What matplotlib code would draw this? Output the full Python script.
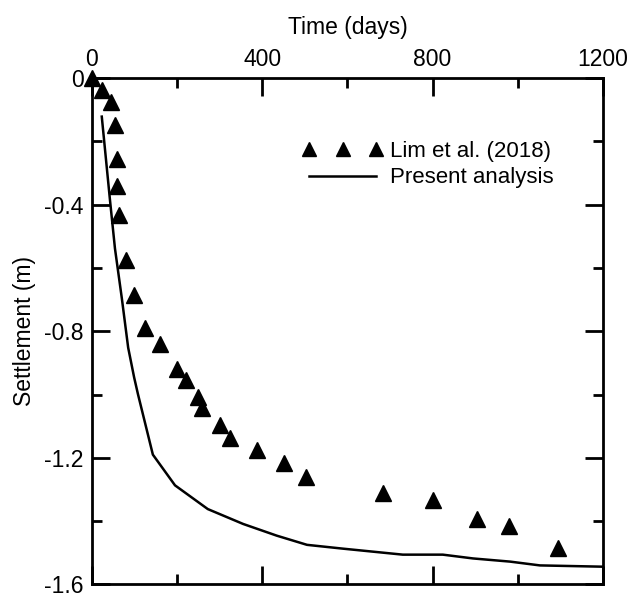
import numpy as np
import matplotlib
matplotlib.use("Agg")
import matplotlib.pyplot as plt
from matplotlib.ticker import MultipleLocator

plt.rcParams['font.family'] = ['Liberation Sans', 'DejaVu Sans']
plt.rcParams['axes.unicode_minus'] = False

# Lim et al. (2018) measured settlement
lim_days = [0, 23, 45, 54, 59, 59, 63, 80, 99, 124, 160, 200, 221, 249, 258,
            301, 324, 388, 451, 503, 683, 801, 904, 979, 1094]
lim_settle = [0, -0.038, -0.075, -0.150, -0.257, -0.341, -0.432, -0.576, -0.686,
              -0.789, -0.839, -0.920, -0.955, -1.008, -1.043, -1.096, -1.137,
              -1.174, -1.218, -1.262, -1.312, -1.334, -1.393, -1.415, -1.484]

# present analysis
ana_days = [23, 42, 54, 70, 85, 99, 108, 143, 195, 272, 355, 434, 505, 589,
            730, 824, 895, 982, 1052, 1198]
ana_settle = [-0.122, -0.382, -0.539, -0.695, -0.852, -0.946, -0.999, -1.190,
              -1.287, -1.362, -1.409, -1.446, -1.475, -1.487, -1.506, -1.506,
              -1.518, -1.528, -1.540, -1.544]

y_ticks = [0, -0.4, -0.8, -1.2, -1.6]
y_labels = ['0', '-0.4', '-0.8', '-1.2', '-1.6']

fig = plt.figure(figsize=(6.3, 6.0), dpi=100)
ax = fig.add_axes([0.146, 0.026, 0.811, 0.844])

ax.plot(lim_days, lim_settle, linestyle='none', marker='^', color='black',
        markersize=11, clip_on=False, label='Lim et al. (2018)')
ax.plot(ana_days, ana_settle, color='black', linewidth=1.8,
        label='Present analysis')

ax.set_xlim(0, 1200)
ax.set_ylim(-1.6, 0)
ax.xaxis.set_major_locator(MultipleLocator(400))
ax.xaxis.set_minor_locator(MultipleLocator(200))
ax.yaxis.set_minor_locator(MultipleLocator(0.2))
ax.set_yticks(y_ticks)
ax.set_yticklabels(y_labels)

ax.xaxis.set_label_position('top')
ax.xaxis.tick_top()
ax.tick_params(which='both', direction='in', top=True, bottom=True,
               left=True, right=True, width=2, labelsize=16.5)
ax.tick_params(which='major', length=13)
ax.tick_params(which='minor', length=7)
ax.tick_params(axis='x', which='major', pad=5)
ax.tick_params(axis='y', which='major', pad=6)
for s in ax.spines.values():
    s.set_linewidth(2)

ax.set_xlabel('Time (days)', fontsize=16.5, labelpad=10)
ax.set_ylabel('Settlement (m)', fontsize=16.5, labelpad=6)

leg = ax.legend(loc='upper left', bbox_to_anchor=(0.411, 0.876), frameon=False,
                numpoints=3, handlelength=3.65, fontsize=16, handletextpad=0.3,
                labelspacing=0.25, markerscale=0.87, borderpad=0,
                borderaxespad=0)

fig.savefig('out.png', dpi=100)
